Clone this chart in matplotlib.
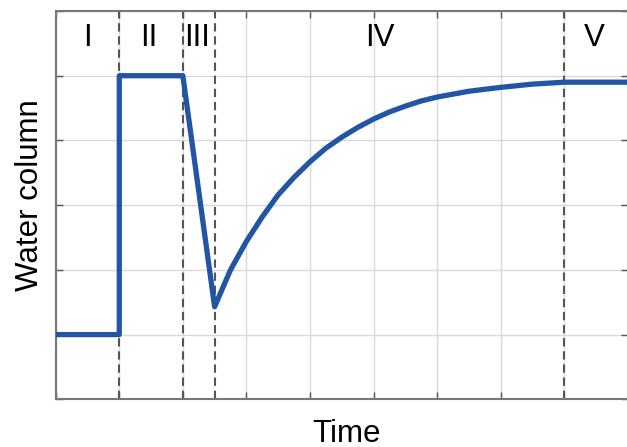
import matplotlib
matplotlib.use("Agg")
import matplotlib.pyplot as plt

plt.rcParams['font.family'] = ['Liberation Sans', 'DejaVu Sans']

# Data
time = [0, 1, 1, 2, 2.5, 2.75, 3.0, 3.25, 3.5, 3.75, 4.0, 4.25, 4.5, 4.75, 5.0,
        5.25, 5.5, 5.75, 6.0, 6.5, 7.0, 7.5, 8.0, 9.0]
water = [1.0, 1.0, 5.0, 5.0, 1.43, 2.0, 2.44, 2.82, 3.16, 3.43, 3.67, 3.88, 4.05, 4.2, 4.33,
         4.44, 4.53, 4.61, 4.67, 4.76, 4.82, 4.87, 4.90, 4.90]
phase_bounds = [1, 2, 2.5, 8]
phase_labels = ['I', 'II', 'III', 'IV', 'V']
phase_label_x = [0.5, 1.47, 2.22, 5.1, 8.48]

fig = plt.figure(figsize=(6.27, 4.47), dpi=100)
ax = fig.add_axes([55.7 / 627, (447 - 399.3) / 447, (627.8 - 55.7) / 627, (399.3 - 11) / 447])

ax.set_xlim(0, 9)
ax.set_ylim(0, 6)
ax.set_xticks(range(0, 10))
ax.set_yticks(range(0, 7))
ax.set_xticklabels([])
ax.set_yticklabels([])
ax.grid(True, color='#d9d9d9', linewidth=1.0)
ax.set_axisbelow(True)
ax.tick_params(direction='in', length=5, width=1, color='#555555', top=True, right=True)
for s in ax.spines.values():
    s.set_color('#777777')
    s.set_linewidth(1.5)

for b in phase_bounds:
    ax.axvline(b, color='#555555', linestyle=(0, (4, 2.3)), linewidth=1.5, zorder=2)

ax.plot(time, water, color='#2255a4', linewidth=3.8, zorder=3)

for lab, lx in zip(phase_labels, phase_label_x):
    ax.text(lx, 5.58, lab, ha='center', va='center', fontsize=22.5, color='black')

ax.set_xlabel('Time', fontsize=22.5, va='center')
ax.set_ylabel('Water column', fontsize=22.5, va='center')
ax.xaxis.set_label_coords((346.5 - 55.7) / 572.1, (399.3 - 433.5) / 388.3)
ax.yaxis.set_label_coords((29.5 - 55.7) / 572.1, (399.3 - 195.5) / 388.3)

fig.savefig('out.png', dpi=100)
